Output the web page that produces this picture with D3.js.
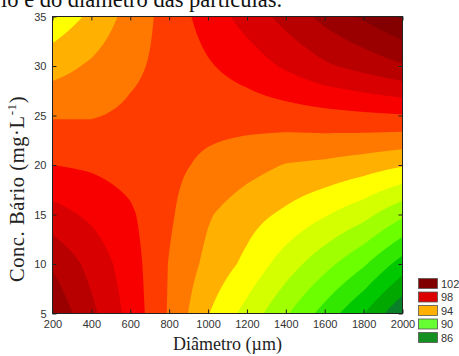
<!DOCTYPE html>
<html>
<head>
<meta charset="utf-8">
<script src="https://cdn.jsdelivr.net/npm/d3@7"></script>
<style>
body { margin: 0; background: #fff; }
svg { display: block; }
</style>
</head>
<body>
<svg id="chart" width="459" height="356"></svg>
<script>
const svg = d3.select('#chart')

// grid
const diametro = [200, 400, 600, 800, 1000, 1200, 1400, 1600, 1800, 2000]
const concBario = [5, 10, 15, 20, 25, 30, 35]
// one row per concBario value, one column per diametro value
const resposta = [
	[100.8, 99.25, 97.66, 95.89, 94.05, 92.65, 91.14, 89.6, 88.03, 86.1],
	[99.88, 98.67, 97.47, 95.95, 94.72, 93.75, 92.51, 91.34, 90.14, 88.55],
	[98.38, 97.8, 97.15, 96.15, 95.1, 94.4, 93.8, 93.09, 92.34, 91.19],
	[97.0, 96.85, 96.6, 96.25, 95.8, 95.37, 94.95, 94.78, 94.48, 94.1],
	[95.92, 95.93, 96.17, 96.3, 96.35, 96.42, 96.53, 96.68, 96.82, 96.93],
	[94.6, 95.15, 95.8, 96.3, 96.9, 97.45, 98.15, 98.85, 99.35, 99.9],
	[93.3, 94.2, 95.39, 96.4, 97.45, 98.4, 99.35, 100.3, 101.15, 102.0]
]

// contour levels and the colour of the band above each one
const niveis = [87, 88, 89, 90, 91, 92, 93, 94, 95, 96, 97, 98, 99, 100, 101, 102]
const corBase = '#0a8028'
const coresFaixas = ['#00a800', '#00c800', '#33e800', '#6cff00', '#a0ff00', '#d4ff00',
	'#ffff00', '#ffb000', '#ff7800', '#ff3c00', '#f80000', '#d80000', '#b80000',
	'#9a0000', '#840000', '#6e0000']

const legendaNiveis = [102, 98, 94, 90, 86]
const legendaCores = ['#800000', '#dc0000', '#ffb000', '#66ff33', '#149020']

const xTicks = [200, 400, 600, 800, 1000, 1200, 1400, 1600, 1800, 2000]
const yTicks = [5, 10, 15, 20, 25, 30, 35]

// plot box
const px0 = 52.5, px1 = 402.5, py0 = 16.5, py1 = 313.5

const xScale = d3.scaleLinear().domain([200, 2000]).range([px0, px1])
const yScale = d3.scaleLinear().domain([5, 35]).range([py1, py0])

// bilinear lookup in the read grid
function valor(x, y) {
	let fx = (x - diametro[0]) / (diametro[1] - diametro[0])
	let fy = (y - concBario[0]) / (concBario[1] - concBario[0])
	fx = Math.max(0, Math.min(diametro.length - 1, fx))
	fy = Math.max(0, Math.min(concBario.length - 1, fy))
	const i = Math.min(Math.floor(fx), diametro.length - 2)
	const j = Math.min(Math.floor(fy), concBario.length - 2)
	const tx = fx - i, ty = fy - j
	const a = resposta[j][i] * (1 - tx) + resposta[j][i + 1] * tx
	const b = resposta[j + 1][i] * (1 - tx) + resposta[j + 1][i + 1] * tx
	return a * (1 - ty) + b * ty
}

const nx = Math.round(px1 - px0)
const ny = Math.round(py1 - py0)
const values = new Array(nx * ny)
for (let r = 0; r < ny; r++) {
	const y = yScale.invert(py0 + r + 0.5)
	for (let c = 0; c < nx; c++) {
		values[r * nx + c] = valor(xScale.invert(px0 + c + 0.5), y)
	}
}

const contours = d3.contours().size([nx, ny]).thresholds(niveis)(values)

const toPlot = d3.geoTransform({
	point: function(x, y) { this.stream.point(px0 + x * (px1 - px0) / nx, py0 + y * (py1 - py0) / ny) }
})
const path = d3.geoPath(toPlot)

svg.append('defs').append('clipPath').attr('id', 'plotClip')
	.append('rect')
	.attr('x', px0).attr('y', py0)
	.attr('width', px1 - px0).attr('height', py1 - py0)

const plot = svg.append('g').attr('clip-path', 'url(#plotClip)')

plot.append('rect')
	.attr('x', px0).attr('y', py0)
	.attr('width', px1 - px0).attr('height', py1 - py0)
	.attr('fill', corBase)

plot.selectAll('path.band')
	.data(contours)
	.enter()
	.append('path')
		.attr('class', 'band')
		.attr('d', path)
		.attr('fill', (d, i) => coresFaixas[i])

// axes, ticks pointing inwards
const tickFont = '"Liberation Sans", Arial, sans-serif'
const fmt = d3.format('d')

const xAxis = svg.append('g')
	.attr('transform', `translate(0, ${py1})`)
	.call(d3.axisBottom(xScale).tickValues(xTicks).tickFormat(fmt).tickSizeInner(-4).tickSizeOuter(0).tickPadding(7))
const xAxisTop = svg.append('g')
	.attr('transform', `translate(0, ${py0})`)
	.call(d3.axisTop(xScale).tickValues(xTicks).tickSizeInner(-4).tickSizeOuter(0).tickFormat(''))
const yAxis = svg.append('g')
	.attr('transform', `translate(${px0}, 0)`)
	.call(d3.axisLeft(yScale).tickValues(yTicks).tickFormat(fmt).tickSizeInner(-4).tickSizeOuter(0).tickPadding(6))
const yAxisRight = svg.append('g')
	.attr('transform', `translate(${px1}, 0)`)
	.call(d3.axisRight(yScale).tickValues(yTicks).tickSizeInner(-4).tickSizeOuter(0).tickFormat(''))

svg.selectAll('path.domain').remove()
svg.selectAll('.tick line').attr('stroke', '#222')
svg.selectAll('.tick text')
	.style('font-family', tickFont)
	.style('font-size', '11px')
	.attr('fill', '#333')

svg.append('rect')
	.attr('x', px0).attr('y', py0)
	.attr('width', px1 - px0).attr('height', py1 - py0)
	.attr('fill', 'none')
	.attr('stroke', '#222')
	.attr('stroke-width', 1)

// titles
const serif = '"Liberation Serif", "Times New Roman", serif'

// caption of the page above, cut by the top edge as in the picture
svg.append('text')
	.attr('x', 1).attr('y', 6.5)
	.style('font-family', serif)
	.style('font-size', '22.5px')
	.attr('fill', '#111')
	.text('io e do diâmetro das partículas.')

svg.append('text')
	.attr('x', (px0 + px1) / 2).attr('y', 350)
	.attr('text-anchor', 'middle')
	.style('font-family', serif)
	.style('font-size', '18px')
	.attr('fill', '#222')
	.text('Diâmetro (µm)')

const yLabel = svg.append('text')
	.attr('transform', 'translate(24, 189) rotate(-90)')
	.attr('text-anchor', 'middle')
	.style('font-family', serif)
	.style('font-size', '20.5px')
	.style('letter-spacing', '0.6px')
	.attr('fill', '#222')
yLabel.append('tspan').text('Conc. Bário (mg·L')
yLabel.append('tspan').attr('dy', -8).style('font-size', '13px').text('-1')
yLabel.append('tspan').attr('dy', 8).text(')')

// legend
const legend = svg.append('g')
const legendTop = [278, 291.5, 305, 318.5, 332]
legend.selectAll('rect')
	.data(legendaNiveis)
	.enter()
	.append('rect')
		.attr('x', 418.5)
		.attr('y', (d, i) => legendTop[i] + 0.5)
		.attr('width', 19)
		.attr('height', 10)
		.attr('fill', (d, i) => legendaCores[i])
		.attr('stroke', '#555')
		.attr('stroke-width', 0.8)
legend.selectAll('text')
	.data(legendaNiveis)
	.enter()
	.append('text')
		.attr('x', 441)
		.attr('y', (d, i) => legendTop[i] + 5.5)
		.attr('dominant-baseline', 'central')
		.style('font-family', tickFont)
		.style('font-size', '11px')
		.attr('fill', '#333')
		.text(d => d)
</script>
</body>
</html>
